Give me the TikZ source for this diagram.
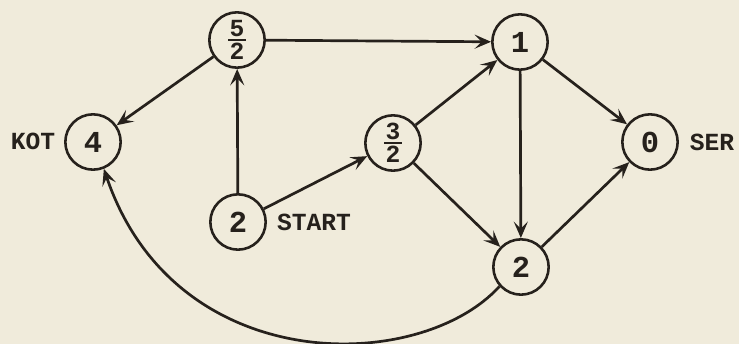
\documentclass[tikz,border=0pt]{standalone}
\usepackage{fontspec}
\setmonofont{Liberation Mono}
\usetikzlibrary{arrows.meta}
\definecolor{paper}{RGB}{240,235,219}
\definecolor{ink}{RGB}{38,33,28}
\newcommand\myfr[2]{\vbox{\hbox to 15pt{\hss#1\hss}\kern2pt\hrule height 1.8pt\kern2pt\hbox to 15pt{\hss#2\hss}}}
\tikzset{
  st/.style={circle, draw=ink, line width=2.2pt, minimum size=1.66cm, inner sep=0pt,
    font=\ttfamily\bfseries\fontsize{26}{26}\selectfont, text=ink},
  frst/.style={st, font=\ttfamily\bfseries\fontsize{21}{16}\selectfont},
  lab/.style={font=\ttfamily\bfseries\fontsize{21}{21}\selectfont, text=ink},
  ar/.style={draw=ink, line width=2.3pt, -{Stealth[length=14pt,width=12pt,inset=6pt]}},
}
\begin{document}
\begin{tikzpicture}[x=0.03cm,y=0.03cm]
\fill[paper] (0,0) rectangle (739,344);
\useasboundingbox (0,0) rectangle (739,344);
\node[st] (n4) at (93,202) {4};
\node[frst] (n52) at (237,304) {\myfr{5}{2}};
\node[st] (s2) at (238,122) {2};
\node[frst] (n32) at (393,201) {\myfr{3}{2}};
\node[st] (n1) at (520,302) {1};
\node[st] (b2) at (521,77) {2};
\node[st] (n0) at (650,202) {0};
\node[lab] (kot) at (33,203) {KOT};
\node[lab] (start) at (314,122) {START};
\node[lab] (ser) at (712,202) {SER};
\draw[ar] (n52) -- (n1);
\draw[ar] (n52) -- (n4);
\draw[ar] (s2) -- (n52);
\draw[ar] (s2) -- (n32);
\draw[ar] (n32) -- (n1);
\draw[ar] (n32) -- (b2);
\draw[ar] (n1) -- (n0);
\draw[ar] (n1) -- (b2);
\draw[ar] (b2) -- (n0);
\draw[ar] (b2.-138) .. controls (420,-30) and (175,-35) .. (n4.-68);
\end{tikzpicture}
\end{document}
